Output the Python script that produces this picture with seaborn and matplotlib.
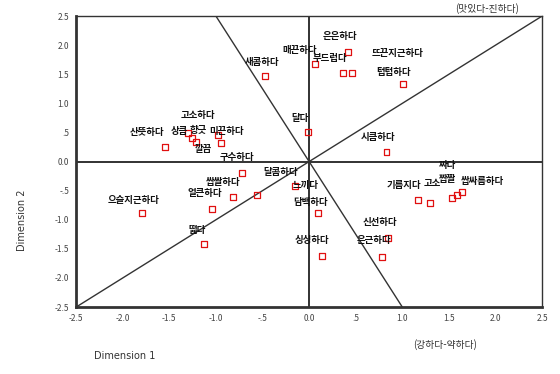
import seaborn as sns
import pandas as pd
import matplotlib.pyplot as plt

# perceptual map coordinates
dim1 = [-0.47, 0.06, 0.42, 0.36, 0.46, 1.01, -0.01, 0.83,
        -1.55, -1.30, -1.26, -1.21, -0.98, -0.95,
        -0.72, -0.82, -0.56, -1.79, -1.04, -1.13,
        -0.15, 0.10, 0.14, 0.78, 0.85,
        1.17, 1.30, 1.53, 1.59, 1.64]
dim2 = [1.47, 1.68, 1.88, 1.52, 1.52, 1.33, 0.51, 0.16,
        0.25, 0.49, 0.40, 0.34, 0.46, 0.32,
        -0.20, -0.61, -0.58, -0.88, -0.82, -1.42,
        -0.42, -0.88, -1.62, -1.64, -1.31,
        -0.66, -0.71, -0.63, -0.58, -0.52]
words = ["새콤하다", "매끈하다", "은은하다", "부드럽다", "뜨끈지근하다", "텁텁하다", "달다", "시큼하다",
         "산뜻하다", "고소하다", "상큼", "향긋", "미끈하다", "깔끔",
         "구수하다", "쌉쌀하다", "달콤하다", "으슬지근하다", "얼큰하다", "떫다",
         "느끼다", "담백하다", "싱싱하다", "은근하다", "신선하다",
         "기름지다", "고소", "짭짤", "짜다", "쌉싸름하다"]
axis_slopes = [1.0, -2.5]
tick_vals = [-2.5, -2.0, -1.5, -1.0, -0.5, 0.0, 0.5, 1.0, 1.5, 2.0, 2.5]
tick_text = ["-2.5", "-2.0", "-1.5", "-1.0", "-.5", "0.0", ".5", "1.0", "1.5", "2.0", "2.5"]

df = pd.DataFrame({"Dim1": dim1, "Dim2": dim2, "Word": words})

sns.set_style("white")
plt.rcParams['font.family'] = ['Noto Sans CJK KR', 'DejaVu Sans']

fig = plt.figure(figsize=(5.6, 3.74), dpi=100)
ax = fig.add_axes([0.136, 0.179, 0.832, 0.778])

ax.axhline(0, color="#222222", lw=1.3, zorder=1)
ax.axvline(0, color="#222222", lw=1.3, zorder=1)
for s in axis_slopes:
    ax.axline((0, 0), slope=s, color="#333333", lw=1.0, zorder=1)

sns.scatterplot(data=df, x="Dim1", y="Dim2", ax=ax, marker="s", s=18,
                facecolor="none", edgecolor="#e01010", linewidth=0.9, zorder=3)

# label offsets in pixels (dx, dy) relative to the point
offsets = [(-3, 14), (-15, 14), (-8, 16), (-13, 15), (46, 20), (-10, 12), (-8, 14), (-8, 15),
           (-18, 15), (10, 18), (-12, 7), (2, 12), (9, 4), (-17, -6),
           (-5, 16), (-10, 15), (24, 23), (-9, 13), (-7, 16), (-7, 14),
           (10, 1), (-8, 11), (-10, 16), (-8, 17), (-8, 16),
           (-14, 15), (2, 20), (-4, 19), (-10, 30), (20, 11)]
for (x, y, w), (dx, dy) in zip(zip(dim1, dim2, words), offsets):
    ax.annotate(w, (x, y), xytext=(dx, dy), textcoords="offset pixels",
                ha="center", va="center", fontsize=6.8, fontweight="bold",
                color="#111111", zorder=4)

ax.set_xlim(-2.5, 2.5)
ax.set_ylim(-2.5, 2.5)
ax.set_xticks(tick_vals)
ax.set_xticklabels(tick_text)
ax.set_yticks(tick_vals)
ax.set_yticklabels(tick_text)
ax.tick_params(direction="inout", length=4, width=2.5, color="#111111",
               labelsize=6, labelcolor="#444444", pad=3)
ax.set_xlabel("")
ax.set_ylabel("")
for side in ["left", "bottom"]:
    ax.spines[side].set_linewidth(2.0)
    ax.spines[side].set_color("#333333")
for side in ["top", "right"]:
    ax.spines[side].set_linewidth(1.0)
    ax.spines[side].set_color("#333333")

fig.text(0.04, 0.41, "Dimension 2", rotation=90, ha="center", va="center",
         fontsize=7, color="#333333", family="DejaVu Sans")
fig.text(0.223, 0.048, "Dimension 1", ha="center", va="center",
         fontsize=7, color="#333333", family="DejaVu Sans")
fig.text(0.795, 0.078, "(강하다-약하다)", ha="center", va="center",
         fontsize=7, color="#333333")
fig.text(0.87, 0.976, "(맛있다-진하다)", ha="center", va="center",
         fontsize=7, color="#333333")

fig.savefig("out.png", dpi=100)
